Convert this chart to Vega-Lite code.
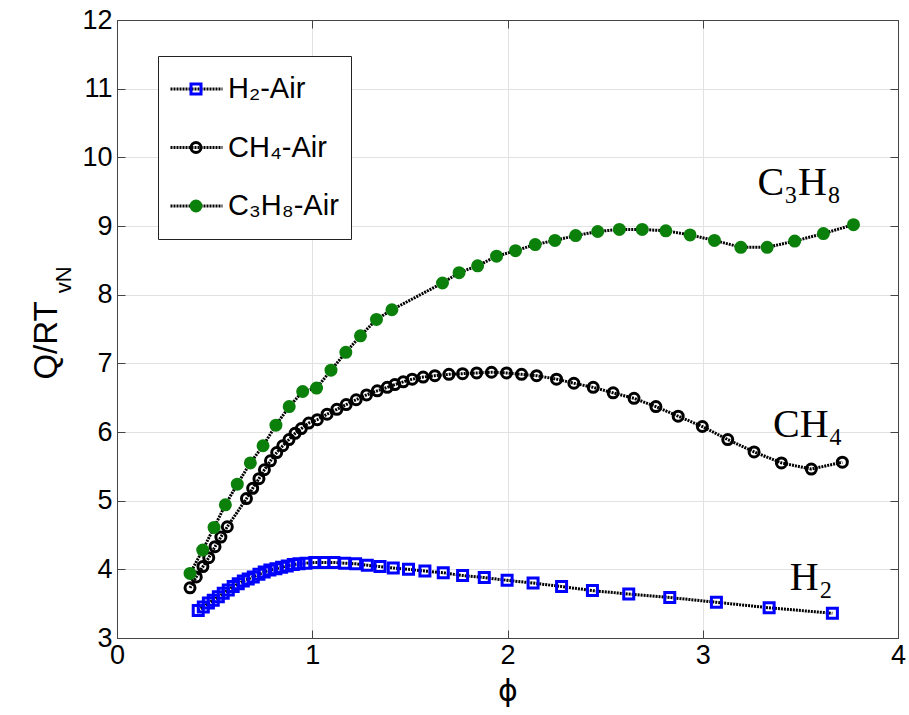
{
  "$schema": "https://vega.github.io/schema/vega-lite/v6.json",
  "width": 781,
  "height": 618,
  "autosize": {"type": "none"},
  "padding": {"left": 117, "top": 20, "right": 11, "bottom": 77},
  "background": "white",
  "config": {
    "view": {"stroke": "#444", "strokeWidth": 1},
    "axis": {
      "labelFont": "Liberation Sans",
      "labelFontSize": 27,
      "labelColor": "black",
      "titleFont": "Liberation Sans",
      "titleFontWeight": "normal",
      "titleColor": "black",
      "domainColor": "#444",
      "tickColor": "#444",
      "gridColor": "#e2e2e2",
      "gridWidth": 1
    }
  },
  "datasets": {
    "curves": [
      {"series": "H₂-Air", "phi": 0.416, "q": 3.40},
      {"series": "H₂-Air", "phi": 0.442, "q": 3.45},
      {"series": "H₂-Air", "phi": 0.468, "q": 3.51},
      {"series": "H₂-Air", "phi": 0.493, "q": 3.55},
      {"series": "H₂-Air", "phi": 0.519, "q": 3.60},
      {"series": "H₂-Air", "phi": 0.544, "q": 3.65},
      {"series": "H₂-Air", "phi": 0.570, "q": 3.70},
      {"series": "H₂-Air", "phi": 0.595, "q": 3.75},
      {"series": "H₂-Air", "phi": 0.621, "q": 3.79},
      {"series": "H₂-Air", "phi": 0.647, "q": 3.83},
      {"series": "H₂-Air", "phi": 0.672, "q": 3.86},
      {"series": "H₂-Air", "phi": 0.698, "q": 3.89},
      {"series": "H₂-Air", "phi": 0.727, "q": 3.93},
      {"series": "H₂-Air", "phi": 0.754, "q": 3.96},
      {"series": "H₂-Air", "phi": 0.783, "q": 3.99},
      {"series": "H₂-Air", "phi": 0.814, "q": 4.01},
      {"series": "H₂-Air", "phi": 0.843, "q": 4.03},
      {"series": "H₂-Air", "phi": 0.872, "q": 4.05},
      {"series": "H₂-Air", "phi": 0.903, "q": 4.07},
      {"series": "H₂-Air", "phi": 0.932, "q": 4.08},
      {"series": "H₂-Air", "phi": 0.968, "q": 4.09},
      {"series": "H₂-Air", "phi": 1.013, "q": 4.10},
      {"series": "H₂-Air", "phi": 1.060, "q": 4.10},
      {"series": "H₂-Air", "phi": 1.111, "q": 4.10},
      {"series": "H₂-Air", "phi": 1.166, "q": 4.09},
      {"series": "H₂-Air", "phi": 1.222, "q": 4.08},
      {"series": "H₂-Air", "phi": 1.282, "q": 4.06},
      {"series": "H₂-Air", "phi": 1.347, "q": 4.04},
      {"series": "H₂-Air", "phi": 1.415, "q": 4.02},
      {"series": "H₂-Air", "phi": 1.493, "q": 4.00},
      {"series": "H₂-Air", "phi": 1.577, "q": 3.975},
      {"series": "H₂-Air", "phi": 1.671, "q": 3.95},
      {"series": "H₂-Air", "phi": 1.770, "q": 3.91},
      {"series": "H₂-Air", "phi": 1.881, "q": 3.88},
      {"series": "H₂-Air", "phi": 1.998, "q": 3.84},
      {"series": "H₂-Air", "phi": 2.131, "q": 3.80},
      {"series": "H₂-Air", "phi": 2.277, "q": 3.75},
      {"series": "H₂-Air", "phi": 2.435, "q": 3.69},
      {"series": "H₂-Air", "phi": 2.621, "q": 3.64},
      {"series": "H₂-Air", "phi": 2.831, "q": 3.59},
      {"series": "H₂-Air", "phi": 3.070, "q": 3.52},
      {"series": "H₂-Air", "phi": 3.340, "q": 3.44},
      {"series": "H₂-Air", "phi": 3.664, "q": 3.36},
      {"series": "CH₄-Air", "phi": 0.374, "q": 3.73},
      {"series": "CH₄-Air", "phi": 0.406, "q": 3.89},
      {"series": "CH₄-Air", "phi": 0.440, "q": 4.04},
      {"series": "CH₄-Air", "phi": 0.470, "q": 4.17},
      {"series": "CH₄-Air", "phi": 0.502, "q": 4.33},
      {"series": "CH₄-Air", "phi": 0.532, "q": 4.47},
      {"series": "CH₄-Air", "phi": 0.565, "q": 4.62},
      {"series": "CH₄-Air", "phi": 0.663, "q": 5.03},
      {"series": "CH₄-Air", "phi": 0.695, "q": 5.18},
      {"series": "CH₄-Air", "phi": 0.727, "q": 5.32},
      {"series": "CH₄-Air", "phi": 0.755, "q": 5.45},
      {"series": "CH₄-Air", "phi": 0.786, "q": 5.58},
      {"series": "CH₄-Air", "phi": 0.818, "q": 5.70},
      {"series": "CH₄-Air", "phi": 0.849, "q": 5.80},
      {"series": "CH₄-Air", "phi": 0.881, "q": 5.89},
      {"series": "CH₄-Air", "phi": 0.912, "q": 5.98},
      {"series": "CH₄-Air", "phi": 0.944, "q": 6.05},
      {"series": "CH₄-Air", "phi": 0.982, "q": 6.13},
      {"series": "CH₄-Air", "phi": 1.026, "q": 6.18},
      {"series": "CH₄-Air", "phi": 1.076, "q": 6.26},
      {"series": "CH₄-Air", "phi": 1.126, "q": 6.33},
      {"series": "CH₄-Air", "phi": 1.174, "q": 6.40},
      {"series": "CH₄-Air", "phi": 1.225, "q": 6.47},
      {"series": "CH₄-Air", "phi": 1.278, "q": 6.54},
      {"series": "CH₄-Air", "phi": 1.333, "q": 6.60},
      {"series": "CH₄-Air", "phi": 1.384, "q": 6.65},
      {"series": "CH₄-Air", "phi": 1.423, "q": 6.69},
      {"series": "CH₄-Air", "phi": 1.466, "q": 6.73},
      {"series": "CH₄-Air", "phi": 1.512, "q": 6.77},
      {"series": "CH₄-Air", "phi": 1.568, "q": 6.80},
      {"series": "CH₄-Air", "phi": 1.628, "q": 6.82},
      {"series": "CH₄-Air", "phi": 1.700, "q": 6.84},
      {"series": "CH₄-Air", "phi": 1.770, "q": 6.85},
      {"series": "CH₄-Air", "phi": 1.842, "q": 6.86},
      {"series": "CH₄-Air", "phi": 1.918, "q": 6.87},
      {"series": "CH₄-Air", "phi": 1.995, "q": 6.86},
      {"series": "CH₄-Air", "phi": 2.072, "q": 6.84},
      {"series": "CH₄-Air", "phi": 2.149, "q": 6.82},
      {"series": "CH₄-Air", "phi": 2.251, "q": 6.77},
      {"series": "CH₄-Air", "phi": 2.340, "q": 6.71},
      {"series": "CH₄-Air", "phi": 2.439, "q": 6.65},
      {"series": "CH₄-Air", "phi": 2.541, "q": 6.57},
      {"series": "CH₄-Air", "phi": 2.648, "q": 6.49},
      {"series": "CH₄-Air", "phi": 2.760, "q": 6.37},
      {"series": "CH₄-Air", "phi": 2.874, "q": 6.23},
      {"series": "CH₄-Air", "phi": 2.998, "q": 6.08},
      {"series": "CH₄-Air", "phi": 3.128, "q": 5.89},
      {"series": "CH₄-Air", "phi": 3.263, "q": 5.71},
      {"series": "CH₄-Air", "phi": 3.403, "q": 5.55},
      {"series": "CH₄-Air", "phi": 3.556, "q": 5.46},
      {"series": "CH₄-Air", "phi": 3.715, "q": 5.56},
      {"series": "C₃H₈-Air", "phi": 0.374, "q": 3.94},
      {"series": "C₃H₈-Air", "phi": 0.439, "q": 4.28},
      {"series": "C₃H₈-Air", "phi": 0.497, "q": 4.61},
      {"series": "C₃H₈-Air", "phi": 0.555, "q": 4.94},
      {"series": "C₃H₈-Air", "phi": 0.616, "q": 5.24},
      {"series": "C₃H₈-Air", "phi": 0.683, "q": 5.55},
      {"series": "C₃H₈-Air", "phi": 0.748, "q": 5.80},
      {"series": "C₃H₈-Air", "phi": 0.814, "q": 6.10},
      {"series": "C₃H₈-Air", "phi": 0.882, "q": 6.37},
      {"series": "C₃H₈-Air", "phi": 0.951, "q": 6.59},
      {"series": "C₃H₈-Air", "phi": 1.022, "q": 6.64},
      {"series": "C₃H₈-Air", "phi": 1.096, "q": 6.90},
      {"series": "C₃H₈-Air", "phi": 1.172, "q": 7.16},
      {"series": "C₃H₈-Air", "phi": 1.247, "q": 7.40},
      {"series": "C₃H₈-Air", "phi": 1.329, "q": 7.64},
      {"series": "C₃H₈-Air", "phi": 1.408, "q": 7.78},
      {"series": "C₃H₈-Air", "phi": 1.667, "q": 8.17},
      {"series": "C₃H₈-Air", "phi": 1.752, "q": 8.32},
      {"series": "C₃H₈-Air", "phi": 1.847, "q": 8.42},
      {"series": "C₃H₈-Air", "phi": 1.944, "q": 8.56},
      {"series": "C₃H₈-Air", "phi": 2.041, "q": 8.64},
      {"series": "C₃H₈-Air", "phi": 2.142, "q": 8.73},
      {"series": "C₃H₈-Air", "phi": 2.243, "q": 8.79},
      {"series": "C₃H₈-Air", "phi": 2.349, "q": 8.86},
      {"series": "C₃H₈-Air", "phi": 2.462, "q": 8.92},
      {"series": "C₃H₈-Air", "phi": 2.573, "q": 8.95},
      {"series": "C₃H₈-Air", "phi": 2.690, "q": 8.95},
      {"series": "C₃H₈-Air", "phi": 2.811, "q": 8.93},
      {"series": "C₃H₈-Air", "phi": 2.935, "q": 8.87},
      {"series": "C₃H₈-Air", "phi": 3.060, "q": 8.79},
      {"series": "C₃H₈-Air", "phi": 3.195, "q": 8.69},
      {"series": "C₃H₈-Air", "phi": 3.330, "q": 8.69},
      {"series": "C₃H₈-Air", "phi": 3.471, "q": 8.78},
      {"series": "C₃H₈-Air", "phi": 3.618, "q": 8.89},
      {"series": "C₃H₈-Air", "phi": 3.772, "q": 9.02}
    ],
    "labels": [
      {"label": "C₃H₈", "phi": 3.28, "q": 9.45},
      {"label": "CH₄", "phi": 3.36, "q": 5.93},
      {"label": "H₂", "phi": 3.446, "q": 3.70}
    ],
    "ysub": [
      {"label": "vN", "phi": -0.236, "q": 8.02}
    ]
  },
  "layer": [
    {
      "data": {"name": "curves"},
      "mark": {"type": "line", "color": "black", "strokeWidth": 3},
      "encoding": {
        "x": {
          "field": "phi", "type": "quantitative",
          "scale": {"domain": [0, 4], "nice": false},
          "axis": {
            "orient": "bottom", "values": [0, 1, 2, 3, 4], "grid": true,
            "tickSize": -8, "labelPadding": 12, "labelFlush": false,
            "title": "ϕ", "titleFont": "DejaVu Sans", "titleFontSize": 30, "titlePadding": 8
          }
        },
        "y": {
          "field": "q", "type": "quantitative",
          "scale": {"domain": [3, 12], "nice": false, "zero": false},
          "axis": {
            "orient": "left", "values": [3, 4, 5, 6, 7, 8, 9, 10, 11, 12], "grid": true,
            "tickSize": -8, "labelPadding": 13, "labelFlush": false,
            "title": "Q/RT", "titleFontSize": 33, "titlePadding": 18, "titleY": 320
          }
        },
        "strokeDash": {
          "field": "series", "type": "nominal", "sort": ["H₂-Air", "CH₄-Air", "C₃H₈-Air"],
          "scale": {"range": [[2, 1], [2, 1], [2, 1]]},
          "legend": {
            "orient": "none", "legendX": 41, "legendY": 36, "title": null,
            "padding": 12, "clipHeight": 42, "rowPadding": 16.5,
            "symbolType": "stroke", "symbolSize": 2704, "symbolStrokeColor": "black", "symbolStrokeWidth": 3,
            "symbolOffset": -1,
            "labelFont": "Liberation Sans", "labelFontSize": 29, "labelOffset": 4, "labelColor": "black",
            "fillColor": "white", "strokeColor": "#222"
          }
        }
      }
    },
    {
      "data": {"name": "curves"},
      "mark": {"type": "point", "size": 100, "strokeWidth": 3, "opacity": 1},
      "encoding": {
        "x": {
          "field": "phi", "type": "quantitative",
          "axis": {"orient": "top", "values": [0, 1, 2, 3, 4], "grid": false, "labels": false, "tickSize": -8, "title": null}
        },
        "y": {
          "field": "q", "type": "quantitative",
          "axis": {"orient": "right", "values": [3, 4, 5, 6, 7, 8, 9, 10, 11, 12], "grid": false, "labels": false, "tickSize": -8, "title": null}
        },
        "shape": {
          "field": "series", "type": "nominal",
          "scale": {"domain": ["H₂-Air", "CH₄-Air", "C₃H₈-Air"], "range": ["square", "circle", "circle"]},
          "legend": {
            "orient": "none", "legendX": 41, "legendY": 36, "title": null,
            "padding": 12, "clipHeight": 42, "rowPadding": 16.5,
            "symbolSize": 100, "symbolStrokeWidth": 3, "symbolOffset": 11.5,
            "labelFont": "Liberation Sans", "labelFontSize": 29, "labelOffset": 17.5, "labelOpacity": 0,
            "fillColor": null, "strokeColor": null
          }
        },
        "stroke": {
          "field": "series", "type": "nominal",
          "scale": {"domain": ["H₂-Air", "CH₄-Air", "C₃H₈-Air"], "range": ["#0000ff", "#000000", "#0b800b"]}
        },
        "fill": {
          "field": "series", "type": "nominal",
          "scale": {"domain": ["H₂-Air", "CH₄-Air", "C₃H₈-Air"], "range": ["transparent", "transparent", "#0b800b"]}
        }
      }
    },
    {
      "data": {"name": "labels"},
      "mark": {"type": "text", "font": "Liberation Serif", "fontSize": 40, "align": "left", "baseline": "alphabetic", "color": "black"},
      "encoding": {
        "x": {"field": "phi", "type": "quantitative", "axis": null},
        "y": {"field": "q", "type": "quantitative", "axis": null},
        "text": {"field": "label"}
      }
    },
    {
      "data": {"name": "ysub"},
      "mark": {"type": "text", "font": "Liberation Sans", "fontSize": 22, "align": "left", "baseline": "alphabetic", "angle": 270, "color": "black"},
      "encoding": {
        "x": {"field": "phi", "type": "quantitative", "axis": null},
        "y": {"field": "q", "type": "quantitative", "axis": null},
        "text": {"field": "label"}
      }
    }
  ],
  "resolve": {"axis": {"x": "independent", "y": "independent"}}
}
